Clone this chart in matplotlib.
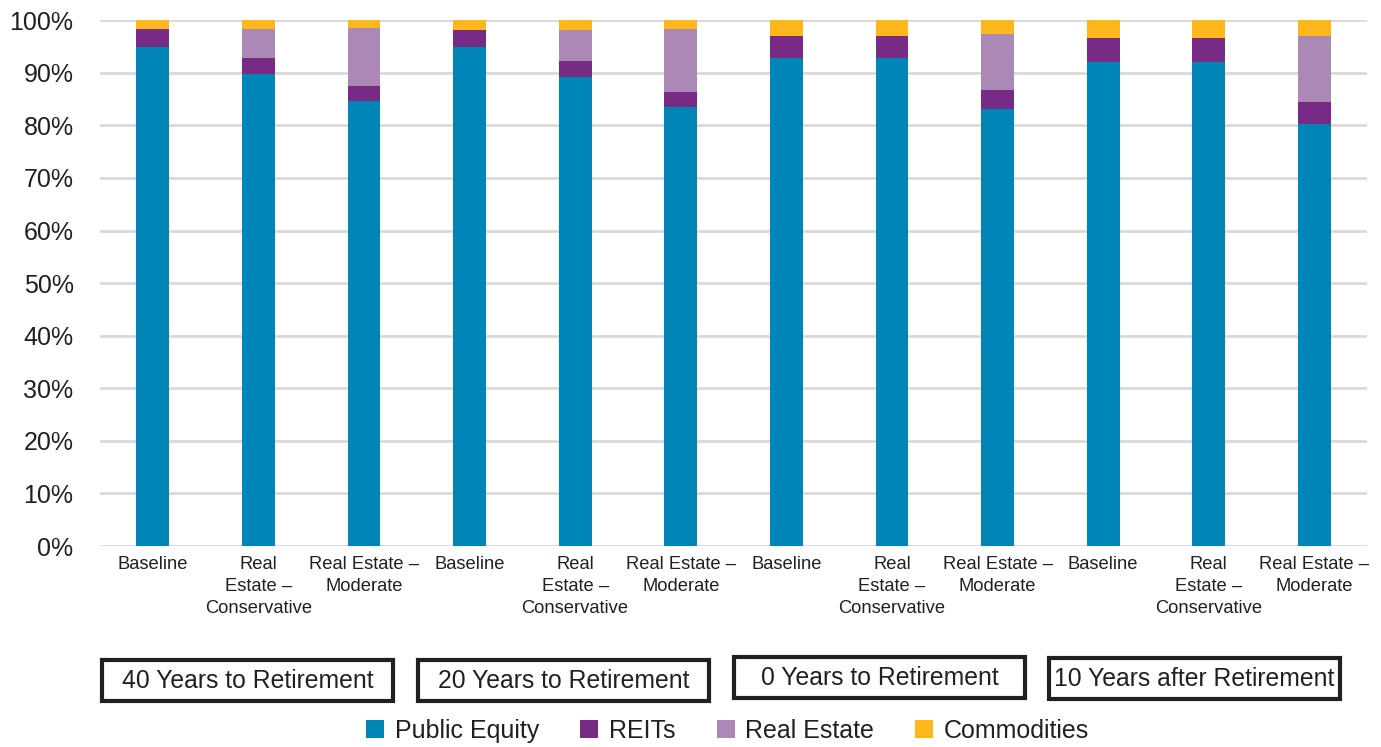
import matplotlib.pyplot as plt
from matplotlib.patches import Rectangle
import numpy as np

plt.rcParams['font.family'] = ['Liberation Sans', 'DejaVu Sans']

# Scenario labels (x categories) and group labels
scenarios = ["Baseline", "Real\nEstate –\nConservative", "Real Estate –\nModerate"] * 4
groups = ["40 Years to Retirement", "20 Years to Retirement",
          "0 Years to Retirement", "10 Years after Retirement"]

# Allocation shares (%)
public_equity = [94.9, 89.7, 84.6, 94.9, 89.2, 83.5, 92.9, 92.9, 83.1, 92.0, 92.0, 80.3]
reits = [3.4, 3.1, 2.9, 3.2, 3.0, 2.9, 4.0, 4.0, 3.6, 4.6, 4.6, 4.1]
real_estate = [0.0, 5.5, 11.0, 0.0, 6.0, 11.9, 0.0, 0.0, 10.6, 0.0, 0.0, 12.6]
commodities = [1.7, 1.7, 1.5, 1.9, 1.8, 1.7, 3.1, 3.1, 2.7, 3.4, 3.4, 3.0]

series = [("Public Equity", public_equity, "#0085B8"),
          ("REITs", reits, "#772B84"),
          ("Real Estate", real_estate, "#AB88B5"),
          ("Commodities", commodities, "#FDB71A")]

TEXT = "#231F20"

fig = plt.figure(figsize=(13.81, 7.47), dpi=100)
ax = fig.add_axes([0.0724, 0.269, 0.9176, 0.704])

x = np.arange(len(scenarios))
bottom = np.zeros(len(scenarios))
for name, vals, color in series:
    ax.bar(x, vals, width=0.31, bottom=bottom, color=color, label=name, zorder=3)
    bottom += np.array(vals)

ax.set_xlim(-0.5, len(scenarios) - 0.5)
ax.set_ylim(0, 100)
ax.set_yticks(np.arange(0, 101, 10))
ax.set_yticklabels([f"{v}%" for v in range(0, 101, 10)], fontsize=18, color=TEXT)
ax.set_xticks(x)
ax.set_xticklabels(scenarios, fontsize=13.2, color=TEXT, va="top", linespacing=1.38)
ax.tick_params(axis="both", length=0)
ax.tick_params(axis="x", pad=7)
ax.tick_params(axis="y", pad=19)
for s in ax.spines.values():
    s.set_visible(False)
ax.grid(axis="y", color="#d9d9d9", linewidth=2, zorder=0)

# Group boxes below the axis
W, H = 1381, 747
boxes = [(102, 660), (418, 660), (734, 657), (1049, 658)]
for (bx, by), label in zip(boxes, groups):
    fig.patches.append(Rectangle((bx / W, 1 - (by + 41) / H), 291 / W, 41 / H,
                                 transform=fig.transFigure, fill=False,
                                 edgecolor=TEXT, linewidth=3))
    fig.text((bx + 145.5) / W, 1 - (by + 21) / H, label, ha="center", va="center",
             fontsize=17.8, color=TEXT)

fig.legend(loc="center", bbox_to_anchor=(0.527, 0.022), ncol=4, frameon=False,
           fontsize=18, handlelength=0.72, handleheight=0.72, columnspacing=1.65,
           handletextpad=0.42, labelcolor=TEXT, borderpad=0.1)

fig.savefig("out.png", dpi=100)
